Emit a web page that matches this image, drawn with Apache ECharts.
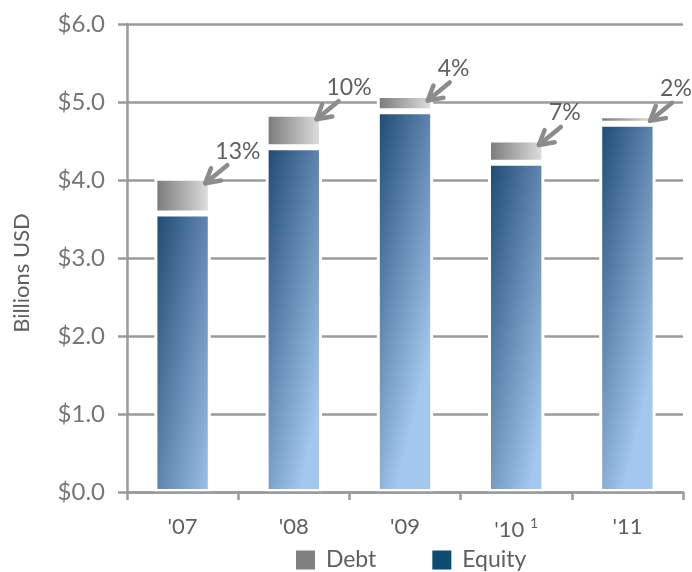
<!DOCTYPE html>
<html>
<head>
<meta charset="utf-8">
<script src="https://cdn.jsdelivr.net/npm/echarts@6/dist/echarts.min.js"></script>
<style>
html,body{margin:0;padding:0;background:#fff;}
#chart{width:692px;height:572px;}
</style>
</head>
<body>
<div id="chart"></div>
<script>
const categories = ["'07", "'08", "'09", "'10", "'11"];
const footnotes = { "'10": "1" };
const equity = [3.57, 4.42, 4.88, 4.22, 4.72];
const debt = [0.46, 0.43, 0.21, 0.30, 0.11];
const debtShare = ["13%", "10%", "4%", "7%", "2%"];
const yMin = 0, yMax = 6, yStep = 1;

const FONT = 'Lato';
const GRAY_TEXT = '#5f5f5f';
const AXIS_GRAY = '#9a9a9a';
const BAR_FRAC = 0.48;
const BORDER = 3;

const chart = echarts.init(document.getElementById('chart'), null, { renderer: 'canvas' });

const equityGrad = new echarts.graphic.LinearGradient(0, 0, 1.9, 0.07, [
  { offset: 0, color: '#1E4872' },
  { offset: 1, color: '#A3C7ED' }
]);
const debtGrad = new echarts.graphic.LinearGradient(0, 0, 1, 0, [
  { offset: 0, color: '#767676' },
  { offset: 1, color: '#E2E2E2' }
]);

const totals = categories.map((c, i) => [i, equity[i] + debt[i]]);

chart.setOption({
  animation: false,
  backgroundColor: '#fff',
  grid: { left: 127, right: 9, top: 24, bottom: 80, containLabel: false },
  legend: {
    left: 296,
    top: 546,
    padding: 0,
    icon: 'rect',
    itemWidth: 19,
    itemHeight: 19,
    itemGap: 56,
    formatter: n => ' ' + n,
    textStyle: { fontFamily: FONT, fontSize: 23, lineHeight: 22, color: GRAY_TEXT, padding: [0, 0, 6, 0] },
    data: [
      { name: 'Debt', itemStyle: { color: '#808080', borderWidth: 0 } },
      { name: 'Equity', itemStyle: { color: '#0E4B72', borderWidth: 0 } }
    ]
  },
  xAxis: {
    type: 'category',
    data: categories,
    z: 5,
    axisLine: { show: true, lineStyle: { color: AXIS_GRAY, width: 2.5 } },
    axisTick: { show: true, length: 8, lineStyle: { color: AXIS_GRAY, width: 2.5 } },
    axisLabel: {
      interval: 0,
      margin: 24,
      fontFamily: FONT,
      fontSize: 22,
      color: GRAY_TEXT,
      formatter: v => footnotes[v] ? v + ' {sup|' + footnotes[v] + '}' : v,
      rich: {
        sup: { fontFamily: FONT, fontSize: 14, color: GRAY_TEXT, verticalAlign: 'top', padding: [0, 0, 14, 0] }
      }
    },
    splitLine: { show: false }
  },
  yAxis: {
    type: 'value',
    min: yMin,
    max: yMax,
    interval: yStep,
    name: 'Billions USD',
    nameLocation: 'middle',
    nameRotate: 90,
    nameGap: 94,
    nameTextStyle: { fontFamily: FONT, fontSize: 22, color: GRAY_TEXT, padding: [0, 30, 0, 0] },
    axisLine: { show: true, lineStyle: { color: AXIS_GRAY, width: 2.5 } },
    axisTick: { show: true, length: 9, lineStyle: { color: AXIS_GRAY, width: 2.5 } },
    axisLabel: {
      margin: 22,
      fontFamily: FONT,
      fontSize: 24,
      color: '#767676',
      formatter: v => '$' + v.toFixed(1)
    },
    splitLine: { show: true, lineStyle: { color: AXIS_GRAY, width: 2.5 } }
  },
  series: [
    {
      name: 'Equity',
      type: 'bar',
      stack: 'total',
      barWidth: (BAR_FRAC * 100 + 2.7) + '%',
      data: equity,
      itemStyle: { color: equityGrad, borderColor: '#fff', borderWidth: BORDER }
    },
    {
      name: 'Debt',
      type: 'bar',
      stack: 'total',
      barWidth: (BAR_FRAC * 100 + 2.7) + '%',
      data: debt,
      itemStyle: { color: debtGrad, borderColor: '#fff', borderWidth: BORDER }
    },
    {
      name: 'notes',
      type: 'custom',
      coordinateSystem: 'cartesian2d',
      z: 10,
      clip: false,
      silent: true,
      data: totals,
      renderItem: function (params, api) {
        const i = api.value(0);
        const top = api.coord([i, api.value(1)]);
        const half = api.size([1, 0])[0] * BAR_FRAC / 2;
        const tip = [top[0] + half - 4, top[1] + 5.5];
        const tail = [tip[0] + 22, tip[1] - 18];
        const ang = Math.atan2(tail[1] - tip[1], tail[0] - tip[0]);
        const L = 16, a = 0.52;
        const arm1 = [tip[0] + L * Math.cos(ang + a), tip[1] + L * Math.sin(ang + a)];
        const arm2 = [tip[0] + L * Math.cos(ang - a), tip[1] + L * Math.sin(ang - a)];
        const stroke = '#8c8c8c';
        return {
          type: 'group',
          children: [
            { type: 'line', shape: { x1: tail[0], y1: tail[1], x2: tip[0], y2: tip[1] },
              style: { stroke: stroke, lineWidth: 4.5, lineCap: 'round' } },
            { type: 'polyline', shape: { points: [arm1, tip, arm2] },
              style: { stroke: stroke, fill: null, lineWidth: 4.5, lineCap: 'round', lineJoin: 'round' } },
            { type: 'text', x: tip[0] + 10, y: tip[1] - 32,
              style: { text: debtShare[params.dataIndex], fill: GRAY_TEXT, fontFamily: FONT, fontSize: 23,
                       align: 'left', verticalAlign: 'middle' } }
          ]
        };
      }
    }
  ]
});
</script>
</body>
</html>
